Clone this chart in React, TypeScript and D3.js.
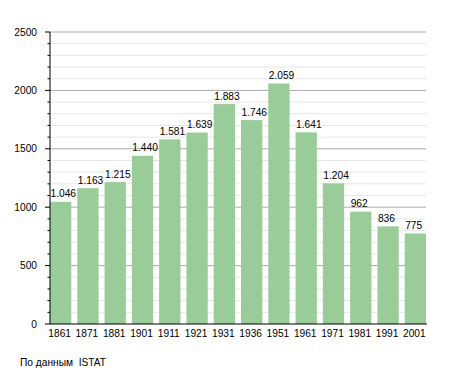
import React from "react";
import * as d3 from "d3";

const years = ["1861", "1871", "1881", "1901", "1911", "1921", "1931", "1936", "1951", "1961", "1971", "1981", "1991", "2001"];
const population = [1046, 1163, 1215, 1440, 1581, 1639, 1883, 1746, 2059, 1641, 1204, 962, 836, 775];
const majorTicks = [0, 500, 1000, 1500, 2000, 2500];
const minorTicks = d3.range(0, 2501, 100);

const width = 455;
const height = 373;
const margin = { top: 32, right: 29, bottom: 49, left: 50 };

const fmt = (v: number) => d3.format(",")(v).replace(/,/g, ".");

export default function App() {
  const x = d3
    .scaleBand()
    .domain(years)
    .range([margin.left, width - margin.right])
    .paddingInner(0.22)
    .paddingOuter(0);
  const y = d3
    .scaleLinear()
    .domain([0, 2500])
    .range([height - margin.bottom, margin.top]);

  const font = "'Liberation Sans', Arial, sans-serif";
  const x0 = margin.left;
  const x1 = width - margin.right;

  return (
    <svg
      width={width}
      height={height}
      style={{ position: "absolute", left: 0, top: 0, background: "#fff" }}
      fontFamily={font}
      fontSize={10.2}
    >
      {/* minor grid */}
      {minorTicks
        .filter((t) => t % 500 !== 0)
        .map((t) => (
          <line key={"m" + t} x1={x0} x2={x1} y1={y(t)} y2={y(t)} stroke="#e6e6e6" strokeWidth={1} />
        ))}
      {/* major grid */}
      {majorTicks
        .filter((t) => t > 0)
        .map((t) => (
          <line key={"M" + t} x1={x0} x2={x1} y1={y(t)} y2={y(t)} stroke="#ababab" strokeWidth={1} />
        ))}

      {/* bars */}
      {years.map((yr, i) => (
        <rect
          key={yr}
          x={x(yr)}
          y={y(population[i])}
          width={x.bandwidth()}
          height={y(0) - y(population[i])}
          fill="#99cc99"
        />
      ))}

      {/* value labels, left-aligned on the bar */}
      {years.map((yr, i) => (
        <text key={"v" + yr} x={(x(yr) ?? 0) + 0.5} y={y(population[i]) - 4.5} fill="#000">
          {fmt(population[i])}
        </text>
      ))}

      {/* y axis */}
      <line x1={x0} x2={x0} y1={y(0)} y2={y(2500)} stroke="#000" />
      {minorTicks.map((t) => (
        <line
          key={"t" + t}
          x1={t % 500 === 0 ? x0 - 5 : x0 - 2.5}
          x2={x0}
          y1={y(t)}
          y2={y(t)}
          stroke="#000"
        />
      ))}
      {majorTicks.map((t) => (
        <text key={"yl" + t} x={37} y={y(t)} dy="0.35em" textAnchor="end" fill="#000">
          {t}
        </text>
      ))}

      {/* x axis */}
      <line x1={x0} x2={x1 + 1} y1={y(0)} y2={y(0)} stroke="#000" strokeWidth={1.2} />
      {years.map((yr) => (
        <text key={"xl" + yr} x={(x(yr) ?? 0) + x.bandwidth() / 2 - 1} y={337} textAnchor="middle" fill="#000">
          {yr}
        </text>
      ))}

      <text x={20} y={366} fill="#000" style={{ whiteSpace: "pre" }}>
        {"По данным  ISTAT"}
      </text>
    </svg>
  );
}
